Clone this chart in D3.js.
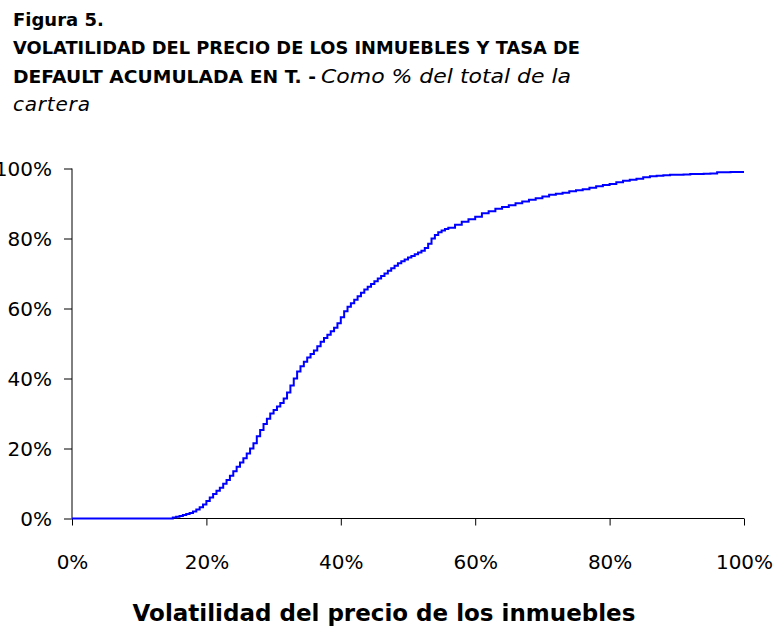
<!DOCTYPE html>
<html>
<head>
<meta charset="utf-8">
<script src="https://cdn.jsdelivr.net/npm/d3@7"></script>
<style>
  html, body { margin: 0; padding: 0; background: #fff; }
  svg { display: block; }
  text { fill: #000; }
</style>
</head>
<body>
<svg id="chart" width="777" height="627"></svg>
<script>
// ---- data ----
// Volatilidad del precio (%)
const volatility = [
  0, 14.5, 15, 15.5, 16, 16.5, 17, 17.5, 18, 18.5, 19, 19.5,
  20, 20.5, 21, 21.5, 22, 22.5, 23, 23.5, 24, 24.5, 25, 25.5, 26, 26.5, 27, 27.5, 28, 28.5, 29, 29.5,
  30, 30.5, 31, 31.5, 32, 32.5, 33, 33.5, 34, 34.5, 35, 35.5, 36, 36.5, 37, 37.5, 38, 38.5, 39, 39.5,
  40, 40.5, 41, 41.5, 42, 42.5, 43, 43.5, 44, 44.5, 45, 45.5, 46, 46.5, 47, 47.5, 48, 48.5, 49, 49.5,
  50, 50.5, 51, 51.5, 52, 52.5, 53, 53.5, 54, 54.5, 55, 55.5, 56,
  57, 58, 59, 60, 61, 62, 63, 64, 65, 66, 67, 68, 69, 70,
  71, 72, 73, 74, 75, 76, 77, 78, 79, 80, 81, 82, 83, 84, 85, 86, 87, 88, 89, 90,
  91, 92, 93, 94, 95, 96, 97, 98, 99, 100
];
// Tasa de default acumulada (% de la cartera)
const defaultRate = [
  0, 0, 0.3, 0.5, 0.7, 1.0, 1.3, 1.6, 2.0, 2.6, 3.2, 4.0,
  5.0, 6.0, 7.0, 7.9, 8.8, 9.9, 11.0, 12.2, 13.5, 14.8, 16.0, 17.2, 18.6, 20.0, 21.5, 23.5, 25.3, 27.0, 28.5, 30.0,
  31.0, 32.0, 33.0, 34.3, 36.0, 38.0, 40.0, 42.0, 43.5, 44.8, 46.0, 47.0, 48.0, 49.2, 50.5, 51.6, 52.5, 53.5, 54.5, 55.8,
  57.5, 59.2, 60.5, 61.5, 62.5, 63.5, 64.5, 65.4, 66.2, 67.0, 67.8, 68.6, 69.3, 70.0, 70.8, 71.5, 72.2, 72.9, 73.5, 74.0,
  74.6, 75.0, 75.5, 76.0, 76.5, 77.3, 78.5, 80.0, 81.0, 81.8, 82.3, 82.7, 83.1,
  83.9, 84.8, 85.5, 86.2, 87.2, 87.8, 88.5, 89.0, 89.5, 90.1, 90.6, 91.1, 91.5, 92.0,
  92.5, 92.8, 93.1, 93.5, 93.8, 94.1, 94.5, 94.9, 95.3, 95.6, 96.1, 96.5, 96.8, 97.1, 97.5, 97.8, 97.9, 98.1, 98.2, 98.2,
  98.3, 98.4, 98.4, 98.5, 98.6, 98.9, 98.9, 99.0, 99.0, 99.0
];
const xTicks = [0, 20, 40, 60, 80, 100];
const yTicks = [0, 20, 40, 60, 80, 100];
const titleLine1 = "Figura 5.";
const titleLine2 = "VOLATILIDAD DEL PRECIO DE LOS INMUEBLES Y TASA DE";
const titleLine3Bold = "DEFAULT ACUMULADA EN T. -";
const titleLine3Italic = "Como % del total de la";
const titleLine4 = "cartera";
const xAxisTitle = "Volatilidad del precio de los inmuebles";

// ---- layout ----
const svg = d3.select("#chart");
const x = d3.scaleLinear().domain([0, 100]).range([72, 744]);
const y = d3.scaleLinear().domain([0, 100]).range([518.5, 168.5]);
const labelFont = "'DejaVu Sans', sans-serif";
const tFont = "'DejaVu Sans', sans-serif";

// title
svg.append("text").attr("x", 13).attr("y", 26)
  .attr("font-family", tFont).attr("font-weight", "bold").attr("font-size", 18)
  .text(titleLine1);
svg.append("text").attr("x", 13).attr("y", 54)
  .attr("font-family", tFont).attr("font-weight", "bold").attr("font-size", 17.8)
  .attr("textLength", 567).attr("lengthAdjust", "spacingAndGlyphs")
  .text(titleLine2);
const l3 = svg.append("text").attr("y", 83)
  .attr("font-family", tFont).attr("font-size", 17.8);
l3.append("tspan").attr("x", 13).attr("font-weight", "bold")
  .attr("textLength", 303).attr("lengthAdjust", "spacingAndGlyphs")
  .text(titleLine3Bold);
l3.append("tspan").attr("x", 321).attr("font-style", "italic").attr("font-size", 20)
  .attr("textLength", 250).attr("lengthAdjust", "spacingAndGlyphs")
  .text(titleLine3Italic);
svg.append("text").attr("x", 13).attr("y", 111)
  .attr("font-family", tFont).attr("font-style", "italic").attr("font-size", 20)
  .attr("letter-spacing", 0.8)
  .text(titleLine4);

// axes
const xAxis = d3.axisBottom(x).tickValues(xTicks).tickSize(7).tickPadding(0)
  .tickFormat(d => d + "%");
const yAxis = d3.axisLeft(y).tickValues(yTicks).tickSize(8).tickPadding(0)
  .tickFormat(d => d + "%");

const gx = svg.append("g").attr("transform", `translate(0,${y(0)})`).call(xAxis);
gx.select(".domain").attr("d", `M${x(0)},0H${x(100)}`).attr("stroke", "#000");
gx.selectAll(".tick line").attr("stroke", "#000");
gx.selectAll(".tick text")
  .attr("font-family", labelFont).attr("font-size", 20)
  .attr("dy", null).attr("y", 50.5).attr("fill", "#000");

const gy = svg.append("g").attr("transform", `translate(${x(0)},0)`).call(yAxis);
gy.select(".domain").attr("d", `M0,${y(100)}V${y(0)}`).attr("stroke", "#000");
gy.selectAll(".tick line").attr("stroke", "#000");
gy.selectAll(".tick text")
  .attr("font-family", labelFont).attr("font-size", 20)
  .attr("x", -20).attr("dy", "0.36em").attr("fill", "#000");

// line
const line = d3.line()
  .x((d, i) => x(volatility[i]))
  .y(d => y(d))
  .curve(d3.curveStepAfter);
svg.append("path").datum(defaultRate)
  .attr("d", line)
  .attr("fill", "none")
  .attr("stroke", "#0000ff")
  .attr("stroke-width", 2);

// x axis title
svg.append("text").attr("x", 384).attr("y", 621)
  .attr("text-anchor", "middle")
  .attr("font-family", tFont).attr("font-weight", "bold").attr("font-size", 23)
  .text(xAxisTitle);
</script>
</body>
</html>
